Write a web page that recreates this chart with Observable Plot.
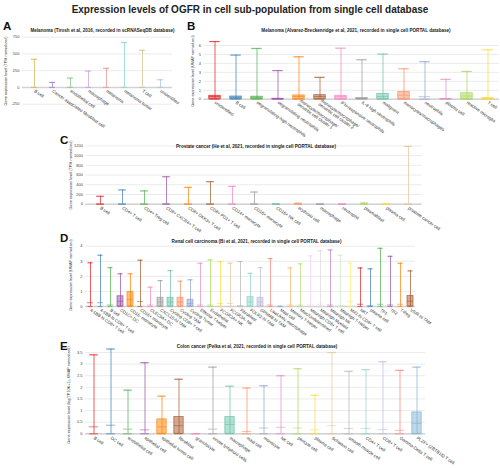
<!DOCTYPE html>
<html><head><meta charset="utf-8">
<script src="https://cdn.jsdelivr.net/npm/d3@7"></script>
<script src="https://cdn.jsdelivr.net/npm/@observablehq/plot@0.6"></script>
<style>
body{margin:0;background:#fff;}
#root{position:relative;width:500px;height:468px;overflow:hidden;font-family:"Liberation Sans",Arial,sans-serif;background:#fff;}
.layer{position:absolute;left:0;top:0;}
.t{position:absolute;white-space:nowrap;color:#222;line-height:1;}
</style></head><body><div id="root"></div><script>
// ---------- texts ----------
const mainTitle = "Expression levels of OGFR in cell sub-population from single cell database";
const panelLetters = ["A","B","C","D","E"];
const panelSubtitles = [
  "Melanoma (Tirosh et al, 2016, recorded in scRNASeqDB database)",
  "Melanoma (Alvarez-Breckenridge et al, 2021, recorded in single cell PORTAL database)",
  "Prostate cancer (He et al, 2021, recorded in single cell PORTAL database)",
  "Renal cell carcinoma (Bi et al, 2021, recorded in single cell PORTAL database)",
  "Colon cancer (Pelka et al, 2021, recorded in single cell PORTAL database)"
];
const yTitles = [
  "Gene expression level (TPM normalized)",
  "Gene expression level (UMAP normalized)",
  "Gene expression level (TPM normalized)",
  "Gene expression level (UMAP normalized)",
  "Gene expression level (log(TP10K+1), UMAP normalized)"
];

// ---------- panel A ----------
const aCats = ["B cell","Cancer associated fibroblast cell","endothelial cell","macrophage","melanoma","melanoma tumor","T cell","unidentified"];
const aHi   = [420, 75, 140, 245, 285, 670, 555, 115];
const aQ3   = [0, 0, 0, 0, 0, 0, 0, 0];
const aMean = [0, 0, 0, 0, 0, 0, 0, 0];
const aTicks = [-250, 0, 250, 500, 750];

// ---------- panel B ----------
const bCats = ["unidentified","B cell","degranulating-high neutrophils","degranulating neutrophils",
  "monocyte/macrophage/\ndendritic cell cluster 1","monocyte/macrophage/\ndendritic cell cluster 2",
  "IFN-responsive neutrophils","IL-8 high neutrophils","malignant","monocytes/macrophages",
  "neutrophils","plasma cell","reactive microglia","T cell"];
const bHi   = [6.44, 4.93, 5.67, 3.2, 4.74, 2.44, 5.7, 4.41, 5.04, 3.4, 4.19, 2.22, 3.1, 5.52];
const bQ3   = [0.38, 0.3, 0.28, 0.05, 0.42, 0.45, 0.38, 0.12, 0.6, 0.82, 0, 0.03, 0.67, 0.15];
const bMean = [0.3, 0.2, 0.2, 0.05, 0.3, 0.3, 0.3, 0.1, 0.3, 0.45, 0.28, 0.03, 0.35, 0.1];
const bTicks = [0, 1, 2, 3, 4, 5, 6];

// ---------- panel C ----------
const cCats = ["B cell","CD4+ T cell","CD4+ Treg cell","CD8+ CXCR4+ T cell","CD8+ DKK3+ T cell","CD8+ PD1+ T cell",
  "CD14+ monocyte","CD16+ monocyte","CD16+ NK cell","erythroid cell","macrophage","neutrophil","plasmablast","plasma cell","prostate cancer cell"];
const cHi   = [163, 294, 273, 565, 347, 463, 367, 250, 4, 20, 4, 4, 25, 4, 1190];
const cQ3   = [0, 0, 0, 0, 0, 0, 0, 0, 0, 0, 0, 0, 0, 0, 0];
const cMean = [6, 6, 6, 8, 6, 6, 6, 6, 3, 10, 3, 3, 12, 3, 6];
const cTicks = [0, 200, 400, 600, 800, 1000, 1200];

// ---------- panel D ----------
const dCats = ["4-1BB-hi CD8+ T cell","4-1BB-lo CD8+ T cell","B cell","CD1C+ DC","CD16- monocyte","CD16+ monocyte",
  "CLEC9A+ DC","CXCL10-hi TAM","Cycling CD8+ T cell","Cycling TAM","Cycling Tumor","Effector T-helper","Endothelial",
  "FCGR3A+ NK","FCGR3A- NK","Fibroblast","FOLR2-hi TAM","GPNMB-hi TAM","LowLikely macrophage","Mast cell",
  "Memory T-helper","Misc/Undetermined","MitoHigh CD8+ T cell","MitoHigh Myeloid","MitoHigh NK","MitoHigh T-Helper",
  "MX1-hi CD8+ T cell","NKT","plasma cell","TP1","TP2","T-Reg","VSIR-hi TAM"];
const dHi   = [2.9, 3.4, 2.58, 2.17, 2.17, 3.07, 1.28, 1.72, 2.38, 1.68, 1.77, 2.87, 3.09, 2.98, 2.87, 2.98, 2.2,
  2.58, 3.18, 0.02, 2.56, 2.83, 3.36, 3.7, 3.75, 3.4, 2.89, 2.56, 2.5, 3.86, 3.33, 2.87, 2.36];
const dQ3   = [0, 0, 0, 0.68, 0.95, 0, 0, 0.58, 0.58, 0.58, 0.45, 0, 0, 0, 0, 0, 0.64, 0.58, 0, 0,
  0, 0, 0, 0, 0, 0, 0, 0, 0, 0, 0, 0, 0.7];
const dMean = [0.25, 0.25, 0.1, 0.35, 0.45, 0.33, 0.1, 0.3, 0.3, 0.3, 0.2, 0.1, 0.1, 0.2, 0.2, 0.05, 0.3, 0.3, 0.1, 0,
  0.1, 0.1, 0.1, 0.15, 0.1, 0.05, 0.33, 0.15, 0.05, 0.15, 0.1, 0.15, 0.35];
const dTicks = [0, 1, 2, 3, 4];

// ---------- panel E ----------
const eCats = ["B cell","DC cell","endothelial cell","epithelial cell","epithelial tumor cell","fibroblast","granulocyte",
  "innate lymphoid cells","macrophage","mast cell","monocyte","NK cell","pericyte cell","plasma cell","Schwann cell",
  "smooth muscle cell","CD4+ T cell","CD8+ T cell","Gamma-Delta T cell","PLZF+ (ZBTB16) T cell"];
const eHi   = [3.4, 3.65, 1.88, 3.06, 1.62, 2.35, 0.01, 2.87, 2.05, 1.97, 2.07, 2.5, 2.8, 1.66, 3.5, 2.69, 2.76, 3.1, 2.73, 2.87];
const eQ3   = [0, 0, 0, 0, 0.62, 0.72, 0, 0, 0.72, 0, 0, 0, 0, 0, 0, 0, 0, 0, 0, 0.92];
const eMean = [0.3, 0.37, 0.2, 0.17, 0.3, 0.35, 0, 0.2, 0.4, 0.1, 0.25, 0.28, 0.25, 0.17, 0.35, 0.23, 0.23, 0.18, 0.15, 0.45];
const eTicks = [0, 0.5, 1, 1.5, 2, 2.5, 3, 3.5];

// ---------- palettes (style) ----------
const paletteA = ["#cdb44a","#9a72cf","#79c27c","#c49bd8","#ee8a8a","#7fd6c4","#c6c08a","#a3bfe6"];
const set1 = ["#e41a1c","#377eb8","#4daf4a","#984ea3","#ff7f00","#a65628","#f781bf","#999999"];
const set2 = ["#66c2a5","#fc8d62","#8da0cb","#e78ac3","#a6d854","#ffd92f","#e5c494","#b3b3b3"];
const set3 = ["#8dd3c7","#bebada","#fb8072","#80b1d3","#fdb462","#b3de69","#fccde5","#d9d9d9","#bc80bd","#ccebc5","#ffed6f"];
const palettePortal = [...set1, ...set2, ...set3];

const FONT = "Liberation Sans, Arial, sans-serif";
const root = document.getElementById("root");

function panel(cats, hi, q3, mean, ticks, palette, g) {
  const data = cats.map((c, i) => ({cat: c, hi: hi[i], q3: q3[i], mean: mean[i]}));
  const band = (g.right - g.left) / cats.length;
  const capIn = band * (1 - g.cap) / 2;
  const boxIn = band * (1 - g.box) / 2;
  const chart = Plot.plot({
    width: 500, height: 468,
    marginLeft: g.left, marginRight: 500 - g.right, marginTop: g.top, marginBottom: 468 - g.labelY,
    style: {background: "transparent", overflow: "visible", fontFamily: FONT, color: "#333"},
    x: {type: "band", domain: cats, range: [g.left, g.right], padding: 0},
    y: {domain: g.yDomain, range: g.yRange},
    color: {type: "ordinal", domain: cats, range: cats.map((_, i) => palette[i % palette.length])},
    marks: [
      Plot.gridY(ticks, {stroke: "#e6e6e6", strokeOpacity: 1, strokeWidth: 0.8}),
      Plot.ruleY([0], {stroke: "#d2d2d2", strokeWidth: 1.4}),
      Plot.ruleX(data, {x: "cat", y1: 0, y2: "hi", stroke: "cat", strokeOpacity: 0.7, strokeWidth: 1}),
      Plot.tickY(data, {x: "cat", y: "hi", stroke: "cat", strokeOpacity: 0.75, strokeWidth: 1.2, insetLeft: capIn, insetRight: capIn}),
      Plot.tickY(data, {x: "cat", y: 0, stroke: "cat", strokeOpacity: 0.6, strokeWidth: 1.2, insetLeft: capIn, insetRight: capIn}),
      Plot.barY(data.filter(d => d.q3 > 0), {x: "cat", y1: 0, y2: "q3", fill: "cat", fillOpacity: 0.5, stroke: "cat", strokeOpacity: 0.8, strokeWidth: 0.8, insetLeft: boxIn, insetRight: boxIn}),
      Plot.tickY(data.filter(d => d.mean > 0), {x: "cat", y: "mean", stroke: "cat", strokeOpacity: 0.55, strokeWidth: 1, insetLeft: boxIn, insetRight: boxIn}),
      Plot.axisY(ticks, {anchor: "left", tickSize: 0, tickPadding: 3, fontSize: g.fs, tickFormat: d => String(d), label: null, fill: "#444"}),
      Plot.axisX({anchor: "bottom", tickSize: 0, tickPadding: 0, tickRotate: g.rot, textAnchor: "start", fontSize: g.xfs, label: null, fill: "#333"})
    ]
  });
  chart.classList.add("layer");
  root.appendChild(chart);
}

panel(aCats, aHi, aQ3, aMean, aTicks, paletteA,
  {left: 22, right: 172, top: 35, labelY: 90, yDomain: [-250, 750], yRange: [103.7, 36.7], cap: 0.36, box: 0.36, fs: 4, xfs: 4.4, rot: 35});
panel(bCats, bHi, bQ3, bMean, bTicks, palettePortal,
  {left: 203.5, right: 499, top: 40, labelY: 101.5, yDomain: [0, 6], yRange: [98.7, 45], cap: 0.5, box: 0.55, fs: 4, xfs: 4.4, rot: 35});
panel(cCats, cHi, cQ3, cMean, cTicks, palettePortal,
  {left: 85.5, right: 421.5, top: 145, labelY: 207, yDomain: [0, 1200], yRange: [203.7, 145.4], cap: 0.36, box: 0.36, fs: 4, xfs: 4.4, rot: 35});
panel(dCats, dHi, dQ3, dMean, dTicks, palettePortal,
  {left: 85, right: 415, top: 245, labelY: 309, yDomain: [0, 4], yRange: [306, 245.7], cap: 0.5, box: 0.6, fs: 4, xfs: 4.3, rot: 35});
panel(eCats, eHi, eQ3, eMean, eTicks, palettePortal,
  {left: 85, right: 425, top: 350, labelY: 437, yDomain: [0, 3.5], yRange: [433.3, 352], cap: 0.5, box: 0.55, fs: 4, xfs: 4.4, rot: 35});

// ---------- HTML text ----------
function addText(str, css) {
  const el = document.createElement("div");
  el.className = "t";
  el.textContent = str;
  Object.assign(el.style, css);
  root.appendChild(el);
}
addText(mainTitle, {left: "250px", top: "10px", transform: "translate(-50%,-50%)", fontSize: "10px", fontWeight: "bold", color: "#222"});
const letterPos = [[3, 21], [187, 21], [60, 135], [60, 233], [60, 341]];
panelLetters.forEach((s, i) => addText(s, {left: letterPos[i][0] + "px", top: letterPos[i][1] + "px", fontSize: "11.5px", fontWeight: "bold", color: "#111"}));
const subPos = [[102.5, 30.5], [356, 30.5], [256, 146.5], [256.5, 241.7], [257, 346.7]];
panelSubtitles.forEach((s, i) => addText(s, {left: subPos[i][0] + "px", top: subPos[i][1] + "px", transform: "translate(-50%,-50%)", fontSize: "4.6px", fontWeight: "bold", color: "#222"}));
const yTitlePos = [[7, 71], [194, 71], [72, 175], [72, 275], [70, 395]];
yTitles.forEach((s, i) => addText(s, {left: yTitlePos[i][0] + "px", top: yTitlePos[i][1] + "px", transform: "translate(-50%,-50%) rotate(-90deg)", fontSize: "3.8px", color: "#333"}));
</script></body></html>
